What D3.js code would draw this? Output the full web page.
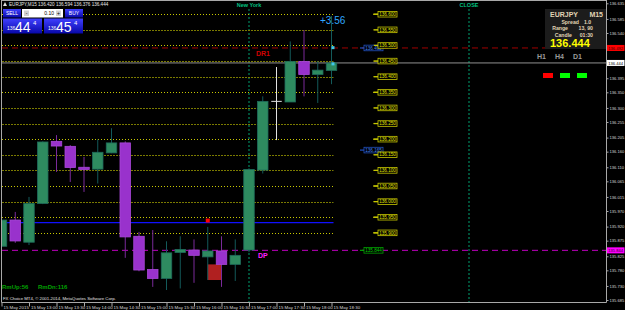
<!DOCTYPE html>
<html>
<head>
<meta charset="utf-8">
<script src="https://cdn.jsdelivr.net/npm/d3@7"></script>
<style>
  body { margin: 0; background: #000; }
  text { font-family: "Liberation Sans", "DejaVu Sans", sans-serif; }
</style>
</head>
<body>
<script>
// Chart data (EURJPY M15, 15 May 2015).
var times  = ["12:30", "12:45", "13:00", "13:15", "13:30", "13:45", "14:00", "14:15", "14:30",
              "14:45", "15:00", "15:15", "15:30", "15:45", "16:00", "16:15", "16:30", "16:45",
              "17:00", "17:15", "17:30", "17:45", "18:00", "18:15", "18:30"];
var opens  = [135.857, 135.941, 135.870, 135.994, 136.193, 136.177, 136.110, 136.104, 136.156,
              136.188, 135.889, 135.783, 135.754, 135.837, 135.845, 135.823, 135.842, 135.799,
              135.845, 136.101, 136.321, 136.319, 136.449, 136.407, 136.420];
var highs  = [135.979, 135.967, 136.015, 136.193, 136.213, 136.181, 136.143, 136.199, 136.235,
              136.193, 135.903, 135.909, 135.873, 135.889, 135.879, 135.919, 135.889, 135.879,
              136.107, 136.337, 136.431, 136.513, 136.549, 136.449, 136.594];
var lows   = [135.835, 135.868, 135.861, 135.992, 136.095, 136.063, 136.031, 136.058, 136.155,
              135.820, 135.777, 135.727, 135.717, 135.722, 135.740, 135.749, 135.727, 135.746,
              135.838, 136.090, 136.197, 136.319, 136.337, 136.316, 136.376];
var closes = [135.941, 135.874, 135.994, 136.191, 136.178, 136.109, 136.103, 136.158, 136.188,
              135.887, 135.781, 135.754, 135.836, 135.847, 135.828, 135.842, 135.799, 135.828,
              136.103, 136.321, 136.321, 136.449, 136.407, 136.421, 136.444];

var timeLabels = ["15 May 2015", "15 May 13:00", "15 May 13:30", "15 May 14:00", "15 May 14:30",
                  "15 May 15:00", "15 May 15:30", "15 May 16:00", "15 May 16:30", "15 May 17:00",
                  "15 May 17:30", "15 May 18:00", "15 May 18:30"];
var priceTicks = [135.685, 135.730, 135.780, 135.825, 135.875, 135.920, 135.970, 136.015, 136.065,
                  136.110, 136.160, 136.205, 136.255, 136.300, 136.350, 136.395, 136.445, 136.490,
                  136.540, 136.585, 136.635];

// Round-number levels (two line styles).
var levelsBright = [136.600, 136.500, 136.350, 136.200, 136.050, 135.950, 135.900];
var levelsDim    = [136.550, 136.450, 136.400, 136.300, 136.250, 136.150, 136.100, 136.000];
var blueLevel  = 135.933;
var blueTags   = [136.492, 136.165];
var dr1        = 136.492;
var dp         = 135.844;
var bid        = 136.444;
var sessionBars = [{name: "New York", bar: 18}, {name: "CLOSE", bar: 34}];

// Canvas.
var width  = 625,
    height = 310,
    right  = 606,
    bottom = 302,
    bodyW  = 10.5;

var svg = d3.select("body")
    .append("svg")
    .attr("width", width)
    .attr("height", height);

svg.append("rect").attr("width", width).attr("height", height).attr("fill", "#000");

var x = d3.scaleLinear().domain([0, 44]).range([1.5, 606.5]);
var y = d3.scaleLinear().domain([135.685, 136.635]).range([300, 3.3]);

var bars = times.map(function(t, i) {
    return {i: i, t: t, o: opens[i], h: highs[i], l: lows[i], c: closes[i]};
});

var defs = svg.append("defs");
defs.append("clipPath").attr("id", "plot")
  .append("rect").attr("x", 2).attr("y", 2).attr("width", right - 2).attr("height", bottom - 2);

var grad = defs.append("linearGradient").attr("id", "btn")
    .attr("x1", 0).attr("y1", 0).attr("x2", 0).attr("y2", 1);
grad.append("stop").attr("offset", "0%").attr("stop-color", "#4040ff");
grad.append("stop").attr("offset", "100%").attr("stop-color", "#0808a8");

var plot = svg.append("g").attr("clip-path", "url(#plot)");

// Session verticals.
plot.selectAll("line.session")
    .data(sessionBars)
  .enter()
    .append("line")
    .attr("x1", function(d) { return x(d.bar); })
    .attr("x2", function(d) { return x(d.bar); })
    .attr("y1", 9)
    .attr("y2", bottom)
    .attr("stroke", "#00a070")
    .attr("stroke-dasharray", "2,2");

svg.selectAll("text.session")
    .data(sessionBars)
  .enter()
    .append("text")
    .text(function(d) { return d.name; })
    .attr("x", function(d) { return x(d.bar); })
    .attr("y", 7)
    .attr("text-anchor", "middle")
    .attr("font-size", "5.5px")
    .attr("font-weight", "bold")
    .attr("fill", "#00c080");

// Round-number levels.
var lastX = x(times.length - 1) + 2;
function levelLines(levels, color, dash) {
    plot.selectAll(null)
        .data(levels)
      .enter()
        .append("line")
        .attr("x1", 2)
        .attr("x2", lastX)
        .attr("y1", function(d) { return Math.round(y(d)) + 0.5; })
        .attr("y2", function(d) { return Math.round(y(d)) + 0.5; })
        .attr("stroke", color)
        .attr("stroke-dasharray", dash);
    svg.selectAll(null)
        .data(levels)
      .enter()
        .append("line")
        .attr("x1", 373).attr("x2", 378)
        .attr("y1", function(d) { return y(d); })
        .attr("y2", function(d) { return y(d); })
        .attr("stroke", color)
        .attr("stroke-width", 1.2);
}
levelLines(levelsBright, "#c8c800", "1,2");
levelLines(levelsDim, "#7a7a00", "2,1");

// Blue line.
plot.append("line")
    .attr("x1", 2).attr("x2", lastX)
    .attr("y1", y(blueLevel)).attr("y2", y(blueLevel))
    .attr("stroke", "#1010ff")
    .attr("stroke-width", 1.2);

// DR1 / DP dashed pivots.
plot.append("line")
    .attr("x1", 2).attr("x2", right)
    .attr("y1", y(dr1)).attr("y2", y(dr1))
    .attr("stroke", "#a00000")
    .attr("stroke-dasharray", "6,4");
plot.append("line")
    .attr("x1", 2).attr("x2", right)
    .attr("y1", y(dp)).attr("y2", y(dp))
    .attr("stroke", "#c000c0")
    .attr("stroke-dasharray", "6,4");

// Bid line.
plot.append("line")
    .attr("x1", 2).attr("x2", right)
    .attr("y1", y(bid)).attr("y2", y(bid))
    .attr("stroke", "#909090");

// Red box marker and red square.
plot.append("rect")
    .attr("x", x(15))
    .attr("y", y(135.799))
    .attr("width", x(16) - x(15))
    .attr("height", y(135.749) - y(135.799))
    .attr("fill", "#b02020");
plot.append("rect")
    .attr("x", x(15) - 2)
    .attr("y", y(blueLevel) - 4)
    .attr("width", 4)
    .attr("height", 4)
    .attr("fill", "#ff0000");

// Wicks.
plot.selectAll("line.wick")
    .data(bars)
  .enter()
    .append("line")
    .attr("x1", function(d) { return x(d.i); })
    .attr("x2", function(d) { return x(d.i); })
    .attr("y1", function(d) { return y(d.h); })
    .attr("y2", function(d) { return y(d.l); })
    .attr("stroke", function(d) {
        if (d.o === d.c) return "#e0e0e0";
        return d.c > d.o ? "#135a5a" : "#7a2a9a";
    });

// Bodies.
plot.selectAll("rect.body")
    .data(bars.filter(function(d) { return d.o !== d.c; }))
  .enter()
    .append("rect")
    .attr("x", function(d) { return x(d.i) - bodyW / 2; })
    .attr("y", function(d) { return y(Math.max(d.o, d.c)); })
    .attr("width", bodyW)
    .attr("height", function(d) { return Math.max(1.5, Math.abs(y(d.o) - y(d.c))); })
    .attr("fill", function(d) { return d.c > d.o ? "#2e8b60" : "#9932cc"; })
    .attr("stroke", function(d) { return d.c > d.o ? "#1e6a5a" : "#a848d8"; })
    .attr("stroke-width", 0.8);

// Doji cross.
plot.selectAll("line.doji")
    .data(bars.filter(function(d) { return d.o === d.c; }))
  .enter()
    .append("line")
    .attr("x1", function(d) { return x(d.i) - bodyW / 2; })
    .attr("x2", function(d) { return x(d.i) + bodyW / 2; })
    .attr("y1", function(d) { return y(d.o); })
    .attr("y2", function(d) { return y(d.o); })
    .attr("stroke", "#e0e0e0");

// Little cyan markers on the live bar.
plot.selectAll("rect.tickmark")
    .data([136.493, 136.441])
  .enter()
    .append("rect")
    .attr("x", x(24))
    .attr("y", function(d) { return y(d) - 1.5; })
    .attr("width", 3)
    .attr("height", 3)
    .attr("fill", "#40c8e8");

svg.append("text")
    .text("+3.56")
    .attr("x", 320)
    .attr("y", 24)
    .attr("font-size", "10px")
    .attr("fill", "#30a8ff");

svg.append("text").text("DR1")
    .attr("x", x(18) + 7).attr("y", y(dr1) + 8)
    .attr("font-size", "7px").attr("font-weight", "bold").attr("fill", "#d00000");
svg.append("text").text("DP")
    .attr("x", x(18) + 9).attr("y", y(dp) + 8)
    .attr("font-size", "7px").attr("font-weight", "bold").attr("fill", "#ff20ff");

// Price tag boxes.
function tag(price, xPos, stroke, color) {
    var g = svg.append("g").attr("transform", "translate(" + xPos + "," + y(price) + ")");
    g.append("line").attr("x1", -4).attr("x2", 0).attr("stroke", stroke).attr("stroke-width", 1.2);
    g.append("rect").attr("x", 0).attr("y", -2.8).attr("width", 19).attr("height", 5.6)
        .attr("fill", "#000").attr("stroke", stroke).attr("stroke-width", 0.8);
    g.append("text").text(d3.format(".3f")(price))
        .attr("x", 9.5).attr("y", 1.7).attr("text-anchor", "middle")
        .attr("font-size", "4.6px").attr("fill", color);
}
blueTags.forEach(function(p) { tag(p, 364, "#2050c0", "#4080f0"); });
tag(dp, 364, "#00a000", "#00d000");
levelsBright.concat(levelsDim).forEach(function(p) { tag(p, 378, "#c8c800", "#e0e000"); });

// Frame.
svg.append("path")
    .attr("d", "M1.5,0V" + (bottom + 0.5) + "H" + (right + 0.5) + "V0")
    .attr("fill", "none")
    .attr("stroke", "#a8a8a8");
svg.append("line").attr("x1", 1).attr("x2", right).attr("y1", 0.5).attr("y2", 0.5).attr("stroke", "#a8a8a8");

// Price axis (ticks under the coloured tags are hidden, as in MT4).
var tagPrices = [dr1, bid, dp];
var yAxis = d3.axisRight(y)
    .tickValues(priceTicks.filter(function(p) {
        return tagPrices.every(function(t) { return Math.abs(t - p) > 0.01; });
    }))
    .tickSize(2)
    .tickPadding(1)
    .tickFormat(d3.format(".3f"));
var ya = svg.append("g").attr("transform", "translate(" + (right + 0.5) + ",0)").call(yAxis);
ya.select(".domain").remove();
ya.selectAll("line").attr("stroke", "#a8a8a8");
ya.selectAll("text").attr("fill", "#d8d8d8").attr("font-size", "4.1px");

// Coloured price labels on the axis.
function axisTag(price, bg, fg) {
    svg.append("rect").attr("x", right + 1).attr("y", y(price) - 3).attr("width", 17.5).attr("height", 6).attr("fill", bg);
    svg.append("text").text(d3.format(".3f")(price))
        .attr("x", right + 9.7).attr("y", y(price) + 1.6).attr("text-anchor", "middle")
        .attr("font-size", "4.1px").attr("fill", fg);
}
axisTag(dr1, "#ff0000", "#400000");
axisTag(bid, "#ffffff", "#000000");
axisTag(dp, "#ff00ff", "#300030");

// Time axis.
var xAxis = d3.axisBottom(x)
    .tickValues(d3.range(0, times.length, 2))
    .tickSize(4)
    .tickFormat(function(d) { return timeLabels[d / 2]; });
var xa = svg.append("g").attr("transform", "translate(0," + (bottom + 0.5) + ")").call(xAxis);
xa.select(".domain").remove();
xa.selectAll("line").attr("stroke", "#a8a8a8");
xa.selectAll("text")
    .attr("text-anchor", "start")
    .attr("x", 1.5)
    .attr("dy", "-0.9em")
    .attr("y", 10)
    .attr("fill", "#d8d8d8")
    .attr("font-size", "4.4px");

// Chart title.
svg.append("path").attr("d", "M3,6L5,2L7,6Z").attr("fill", "#e0e0e0");
svg.append("text")
    .text("EURJPY,M15  136.420 136.594 136.376 136.444")
    .attr("x", 9).attr("y", 6)
    .attr("font-size", "4.6px")
    .attr("fill", "#e8e8e8");

// One-click trading panel.
var panel = svg.append("g");
panel.append("rect").attr("x", 3).attr("y", 9).attr("width", 18).attr("height", 8.5).attr("fill", "url(#btn)");
panel.append("text").text("SELL").attr("x", 12).attr("y", 15.2).attr("text-anchor", "middle")
    .attr("font-size", "5px").attr("fill", "#fff");
panel.append("rect").attr("x", 22).attr("y", 9).attr("width", 41).attr("height", 8.5).attr("fill", "#fff");
panel.append("rect").attr("x", 24).attr("y", 10.5).attr("width", 5).attr("height", 5.5).attr("fill", "#d0d0d0");
panel.append("rect").attr("x", 56).attr("y", 10.5).attr("width", 5).attr("height", 5.5).attr("fill", "#d0d0d0");
panel.append("text").text("-").attr("x", 26.5).attr("y", 15).attr("text-anchor", "middle").attr("font-size", "5px").attr("fill", "#000");
panel.append("text").text("+").attr("x", 58.5).attr("y", 15).attr("text-anchor", "middle").attr("font-size", "5px").attr("fill", "#000");
panel.append("text").text("0.10").attr("x", 54).attr("y", 15.2).attr("text-anchor", "end").attr("font-size", "5px").attr("fill", "#000");
panel.append("rect").attr("x", 65).attr("y", 9).attr("width", 18).attr("height", 8.5).attr("fill", "url(#btn)");
panel.append("text").text("BUY").attr("x", 74).attr("y", 15.2).attr("text-anchor", "middle")
    .attr("font-size", "5px").attr("fill", "#fff");

[{x0: 3, big: "44"}, {x0: 44, big: "45"}].forEach(function(b) {
    panel.append("rect").attr("x", b.x0).attr("y", 18.5).attr("width", 39).attr("height", 15).attr("fill", "url(#btn)");
    panel.append("text").text("136").attr("x", b.x0 + 4).attr("y", 30).attr("font-size", "5px").attr("fill", "#fff");
    panel.append("text").text(b.big).attr("x", b.x0 + 12).attr("y", 31.5).attr("font-size", "14px").attr("fill", "#fff");
    panel.append("text").text("4").attr("x", b.x0 + 30).attr("y", 24.5).attr("font-size", "6px").attr("fill", "#fff");
});

// Info box (top right).
svg.append("rect").attr("x", 545).attr("y", 9).attr("width", 61).attr("height", 40).attr("fill", "#1c1c1c");
var tan = "#e0d4b4";
function info(t, xPos, yPos, anchor, size, color) {
    svg.append("text").text(t).attr("x", xPos).attr("y", yPos).attr("text-anchor", anchor)
        .attr("font-size", size).attr("font-weight", "bold").attr("fill", color);
}
info("EURJPY", 550, 17, "start", "7px", tan);
info("M15", 603, 17, "end", "7px", tan);
info("Spread", 579, 23.5, "end", "5.2px", tan);
info("1.0", 584, 23.5, "start", "5.2px", tan);
info("Range", 568, 30, "end", "5.2px", tan);
info("13, 90", 593, 30, "end", "5.2px", tan);
info("Candle", 572, 36.5, "end", "5.2px", tan);
info("01:30", 593, 36.5, "end", "5.2px", tan);
info("136.444", 550, 47, "start", "11px", "#ffff00");

info("H1", 537, 59, "start", "7px", "#9a9a9a");
info("H4", 555, 59, "start", "7px", "#9a9a9a");
info("D1", 573, 59, "start", "7px", "#9a9a9a");
svg.append("rect").attr("x", 543).attr("y", 73).attr("width", 10).attr("height", 5).attr("fill", "#ff0000");
svg.append("rect").attr("x", 560).attr("y", 73).attr("width", 10).attr("height", 5).attr("fill", "#00ff00");
svg.append("rect").attr("x", 577).attr("y", 73).attr("width", 10).attr("height", 5).attr("fill", "#00ff00");

// Bottom-left labels.
info("RmUp:56", 2, 289, "start", "6px", "#00a000");
info("RmDn:116", 38, 289, "start", "6px", "#00a000");
svg.append("text")
    .text("FX Choice MT4, \u00a9 2001-2014, MetaQuotes Software Corp.")
    .attr("x", 3).attr("y", 300)
    .attr("font-size", "4.3px")
    .attr("fill", "#e0e0e0");
</script>
</body>
</html>
